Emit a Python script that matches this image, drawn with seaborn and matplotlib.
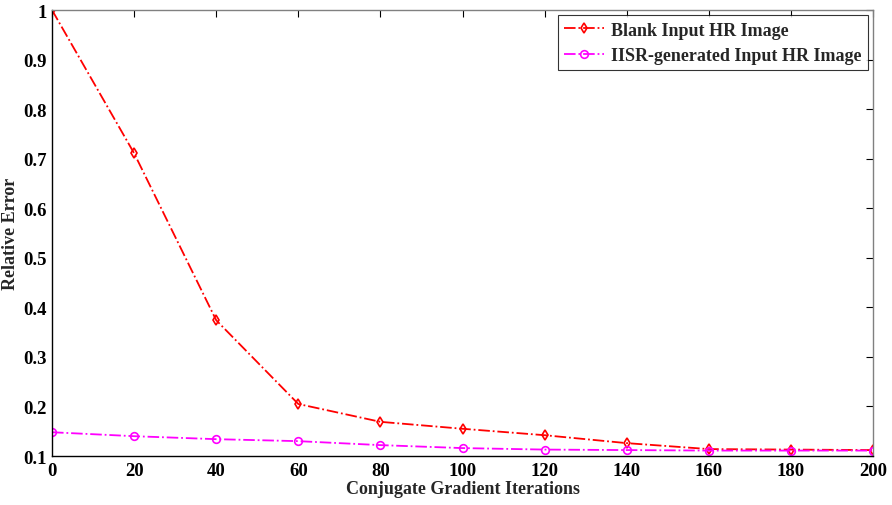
import matplotlib
matplotlib.use("Agg")
import matplotlib.pyplot as plt
import seaborn as sns
import pandas as pd

iterations = [0, 20, 40, 60, 80, 100, 120, 140, 160, 180, 200]
blank_err = [1.0, 0.711, 0.374, 0.205, 0.169, 0.155, 0.142, 0.126, 0.114, 0.113, 0.112]
iisr_err = [0.148, 0.140, 0.134, 0.130, 0.122, 0.116, 0.113, 0.112, 0.111, 0.111, 0.111]
series_names = ["Blank Input HR Image", "IISR-generated Input HR Image"]
x_ticks = [0, 20, 40, 60, 80, 100, 120, 140, 160, 180, 200]
y_ticks = [0.1, 0.2, 0.3, 0.4, 0.5, 0.6, 0.7, 0.8, 0.9, 1]

sns.set_style("white")
plt.rcParams['font.family'] = ['Liberation Serif', 'DejaVu Serif']
plt.rcParams['font.weight'] = 'bold'

df = pd.DataFrame({
    "it": iterations * 2,
    "err": blank_err + iisr_err,
    "series": [series_names[0]] * len(iterations) + [series_names[1]] * len(iterations),
})

fig = plt.figure(figsize=(8.92, 5.06), dpi=100)
ax = fig.add_axes([0.0583, 0.0968, 0.9204, 0.8814])

styles = {series_names[0]: ("#ff0000", "d"), series_names[1]: ("#ff00ff", "o")}
for name in series_names:
    c, m = styles[name]
    sns.lineplot(data=df[df.series == name], x="it", y="err", ax=ax, color=c,
                 marker=m, markersize=5.5, markerfacecolor="none", markeredgecolor=c,
                 markeredgewidth=1.2, linestyle="-.", linewidth=1.3, label=name)

ax.set_xlim(0, 200)
ax.set_ylim(0.1, 1)
ax.set_xticks(x_ticks)
ax.set_yticks(y_ticks)
ax.set_yticklabels([f"{v:g}" for v in y_ticks])
ax.tick_params(direction="in", length=5, labelsize=13.5, colors="black",
               top=True, right=True, pad=4)
for lab in ax.get_xticklabels() + ax.get_yticklabels():
    lab.set_fontweight("bold")
for s in ax.spines.values():
    s.set_color("#808080")
    s.set_linewidth(1.0)
ax.spines["left"].set_color("black")
ax.spines["bottom"].set_color("black")
ax.set_xlabel("Conjugate Gradient Iterations", fontsize=13, fontweight="bold", labelpad=1)
ax.set_ylabel("Relative Error", fontsize=13, fontweight="bold", labelpad=3)

leg = ax.legend(loc="upper right", fontsize=13, frameon=True, fancybox=False,
                edgecolor="black", borderpad=0.35, handlelength=2.2,
                handletextpad=0.4, labelspacing=0.45, borderaxespad=0.3)
leg.get_frame().set_linewidth(0.8)
for t in leg.get_texts():
    t.set_fontweight("bold")

fig.savefig("out.png", dpi=100)
